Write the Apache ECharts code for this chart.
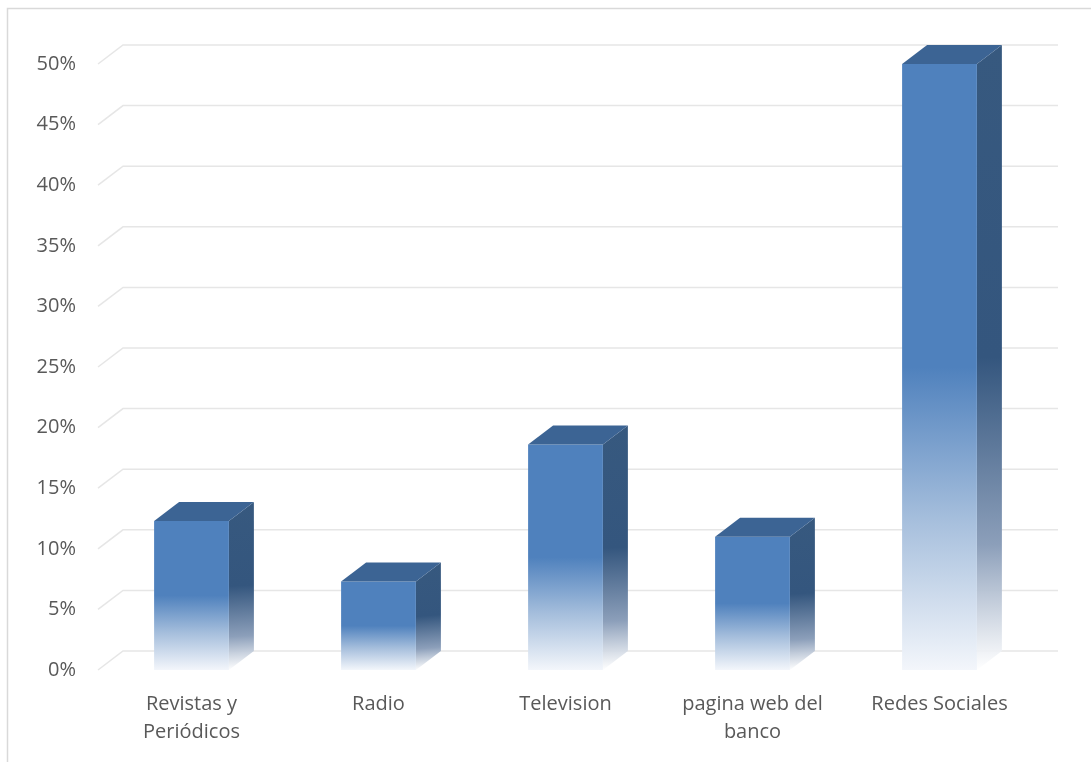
<!DOCTYPE html>
<html>
<head>
<meta charset="utf-8">
<script src="https://cdn.jsdelivr.net/npm/echarts@6/dist/echarts.min.js"></script>
<style>
  html, body { margin: 0; padding: 0; background: #ffffff; }
  #chart { width: 1091px; height: 762px; }
</style>
</head>
<body>
<div id="chart"></div>
<script>
// Medios por los que se conoce el banco (porcentaje de encuestados)
const categories = ['Revistas y\nPeriódicos', 'Radio', 'Television', 'pagina web del\nbanco', 'Redes Sociales'];
const shares = [0.123, 0.073, 0.186, 0.110, 0.500];
const yTicks = [0, 0.05, 0.10, 0.15, 0.20, 0.25, 0.30, 0.35, 0.40, 0.45, 0.50];

// depth of the 3D box projection (pixels)
const DX = 25, DY = 19;
const FONT = '"Open Sans", sans-serif';
const TEXT = '#595959';

const chart = echarts.init(document.getElementById('chart'), null, { renderer: 'canvas' });

function renderGrid(params, api) {
  const v = api.value(0);
  const cs = params.coordSys;
  const y = api.coord([0, v])[1];
  const x0 = cs.x;
  const x1 = cs.x + cs.width;
  return {
    type: 'polyline',
    shape: { points: [[x0, y], [x0 + DX, y - DY], [x1 + DX, y - DY]] },
    style: { stroke: '#e6e6e6', lineWidth: 1.5, fill: null },
    silent: true
  };
}

function renderBox(params, api) {
  const idx = api.value(0);
  const val = api.value(1);
  const base = api.coord([idx, 0]);
  const top = api.coord([idx, val]);
  const bw = api.size([1, 0])[0];
  const w = bw * 0.4;
  const xl = base[0] - w / 2, xr = base[0] + w / 2;
  const yt = top[1], yb = base[1];
  const G = echarts.graphic.LinearGradient;
  return {
    type: 'group',
    children: [
      {
        type: 'polygon',
        shape: { points: [[xr, yt], [xr + DX, yt - DY], [xr + DX, yb - DY], [xr, yb]] },
        style: {
          fill: new G(0, 0, 0.35, 1, [
            { offset: 0, color: '#37597f' },
            { offset: 0.5, color: '#34567e' },
            { offset: 0.8, color: '#8c9fba' },
            { offset: 1, color: 'rgba(255,255,255,0.9)' }
          ])
        }
      },
      {
        type: 'rect',
        shape: { x: xl, y: yt, width: w, height: yb - yt },
        style: {
          fill: new G(0, 0, 0, 1, [
            { offset: 0, color: '#4f81bd' },
            { offset: 0.5, color: '#4f81bd' },
            { offset: 0.75, color: '#a5bedc' },
            { offset: 1, color: '#f3f6fb' }
          ])
        }
      },
      {
        type: 'polygon',
        shape: { points: [[xl, yt], [xl + DX, yt - DY], [xr + DX, yt - DY], [xr, yt]] },
        style: { fill: '#3c6494' }
      }
    ]
  };
}

chart.setOption({
  animation: false,
  backgroundColor: '#ffffff',
  graphic: [{
    type: 'rect',
    shape: { x: 7.5, y: 8.5, width: 1200, height: 900 },
    style: { fill: null, stroke: '#d9d9d9', lineWidth: 1.5 },
    silent: true, z: -10
  }],
  grid: { left: 98, right: 58, top: 64, bottom: 92 },
  xAxis: {
    type: 'category',
    data: categories,
    axisLine: { show: false },
    axisTick: { show: false },
    splitLine: { show: false },
    axisLabel: {
      interval: 0, margin: 20,
      color: TEXT, fontFamily: FONT, fontSize: 20, lineHeight: 28
    }
  },
  yAxis: {
    type: 'value',
    min: 0, max: 0.5, interval: 0.05,
    axisLine: { show: false },
    axisTick: { show: false },
    splitLine: { show: false },
    axisLabel: {
      margin: 22, color: TEXT, fontFamily: FONT, fontSize: 20,
      formatter: v => Math.round(v * 100) + '%'
    }
  },
  series: [
    {
      type: 'custom',
      renderItem: renderGrid,
      data: yTicks.map(v => [v]),
      encode: { y: 0 },
      z: 1,
      silent: true
    },
    {
      type: 'custom',
      renderItem: renderBox,
      data: shares.map((v, i) => [i, v]),
      encode: { x: 0, y: 1 },
      z: 2
    }
  ]
});
</script>
</body>
</html>
